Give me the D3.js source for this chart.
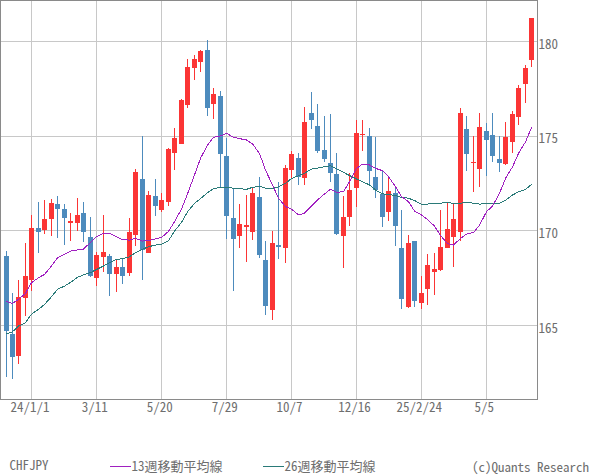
<!DOCTYPE html>
<html><head><meta charset="utf-8">
<script src="https://cdn.jsdelivr.net/npm/d3@7"></script>
<style>
html,body{margin:0;padding:0;background:#fff;}
svg{display:block;}
text{font-family:"Noto Sans CJK JP",monospace;font-feature-settings:"hwid";fill:#6e6e6e;font-size:13px;}
</style></head><body><svg id="c" width="600" height="475"></svg>
<script>
const symbol="CHFJPY";
const copyright="(c)Quants Research";
const ma13Label="13週移動平均線";
const ma26Label="26週移動平均線";
const yTicks=[165,170,175,180];
const tickIndex=[4,14,24,34,44,54,64,74];
const tickLabels=["24/1/1","3/11","5/20","7/29","10/7","12/16","25/2/24","5/5"];
const open=[168.67,164.55,163.40,166.47,167.42,170.15,170.04,170.64,171.42,171.15,
170.41,170.43,170.94,169.67,167.52,168.62,168.67,167.74,168.09,167.79,
169.80,172.74,168.85,171.84,171.10,171.54,174.13,174.60,176.66,178.62,
178.94,179.55,176.72,177.12,173.95,170.68,169.74,170.22,169.96,171.79,
168.46,165.83,169.25,169.11,173.23,173.85,172.81,176.22,175.54,174.27,
173.58,173.00,169.75,170.75,172.28,175.06,175.01,172.85,171.95,171.01,
171.98,169.09,165.98,169.46,166.21,166.95,167.84,167.93,169.10,169.69,
169.95,175.37,173.59,173.28,175.27,175.06,173.79,173.53,174.71,176.03,
177.77,179.04];
const close=[164.71,163.35,166.50,167.61,170.15,169.95,170.62,171.47,171.17,170.69,
170.52,170.83,169.95,167.63,168.72,168.88,167.74,168.09,167.63,169.95,
173.11,168.97,171.89,171.33,171.63,174.32,174.90,176.91,178.65,179.08,
179.50,176.51,177.23,174.08,170.80,169.59,170.36,170.29,172.00,168.74,
166.05,169.36,169.16,173.32,174.06,172.86,175.75,175.87,174.24,173.81,
173.07,169.83,170.73,172.16,175.17,175.12,173.18,172.18,170.75,172.11,
170.27,166.42,169.36,166.31,166.72,168.20,167.98,169.14,170.09,170.62,
176.22,174.07,173.63,175.48,174.81,173.97,173.59,174.95,176.17,177.54,
178.60,181.24];
const high=[168.93,166.71,167.40,169.36,170.83,171.52,171.63,171.68,171.84,171.42,
170.94,171.73,171.52,170.73,168.88,170.83,168.77,168.51,168.51,170.68,
173.26,175.01,172.10,172.74,172.00,174.37,175.43,176.96,179.08,179.29,
179.55,180.08,177.55,177.39,174.90,172.23,171.42,171.89,172.26,172.84,
169.46,169.99,172.58,173.48,174.22,174.11,176.54,177.33,176.70,176.07,
176.17,174.11,171.84,173.06,175.86,175.86,175.43,174.96,173.21,172.90,
172.37,171.10,169.78,169.46,167.62,168.78,168.83,171.10,171.47,171.41,
176.48,176.06,175.00,176.22,175.69,176.22,175.00,175.74,176.33,177.68,
178.75,181.24];
const low=[162.29,162.19,162.98,165.50,166.82,168.84,169.85,169.74,169.64,169.27,
169.48,170.01,169.43,167.54,167.10,167.84,166.57,166.78,167.21,167.63,
169.22,167.42,168.85,170.80,170.99,171.33,173.23,174.60,176.51,177.99,
178.41,176.08,175.93,172.30,169.55,166.84,169.11,168.37,169.53,168.58,
165.57,165.31,168.53,168.32,172.81,172.44,172.44,175.40,174.13,173.66,
172.60,169.78,168.06,170.27,171.28,174.24,172.44,171.75,170.22,170.54,
169.22,165.89,165.94,165.99,165.89,166.10,166.63,167.89,169.07,168.10,
169.47,173.17,172.06,172.33,172.91,173.65,173.12,173.49,174.12,175.60,
176.77,178.67];
const ma13=[166.27,166.17,166.38,166.70,167.26,167.52,167.70,168.14,168.58,168.77,
168.93,168.99,169.04,169.39,169.69,169.87,169.87,169.69,169.53,169.51,
169.60,169.46,169.48,169.57,169.65,169.97,170.48,171.15,171.95,172.95,
173.83,174.53,174.94,175.01,175.15,174.94,174.87,174.80,174.59,174.09,
173.21,172.42,171.72,171.28,171.15,170.84,170.93,171.31,171.63,171.95,
172.19,172.03,172.07,172.60,173.30,173.52,173.48,173.30,173.18,172.86,
172.33,171.81,171.54,171.05,170.84,170.60,170.25,169.75,169.33,169.25,
169.60,169.83,169.91,170.30,171.01,171.31,171.98,172.77,173.38,174.09,
174.70,175.46];
const ma26=[164.55,164.67,164.97,165.15,165.60,165.85,166.11,166.52,166.91,167.08,
167.28,167.54,167.68,167.79,167.96,168.14,168.32,168.49,168.53,168.63,
168.85,169.02,169.16,169.25,169.30,169.48,169.98,170.45,171.00,171.45,
171.70,172.02,172.23,172.30,172.30,172.25,172.23,172.19,172.30,172.35,
172.25,172.23,172.33,172.51,172.76,172.91,173.04,173.26,173.31,173.39,
173.44,173.27,173.09,172.92,172.74,172.60,172.42,172.16,171.95,171.93,
171.86,171.77,171.72,171.60,171.41,171.41,171.46,171.46,171.50,171.45,
171.46,171.50,171.46,171.41,171.45,171.45,171.46,171.62,171.89,172.06,
172.19,172.45];

const UP="#fb3535",DOWN="#4d8bbd",GRID="#c8c8c8",AXIS="#8a8a8a",P="#a020c0",G="#2a7a78";
const L=0.5,R=537.5,B=399.5,T=0.5;
const idx=d3.range(open.length);
const x=d3.scaleLinear().domain([0,81]).range([6,531.69]);
const y=d3.scaleLinear().domain([165,180]).range([325.5,41.5]);
const px=i=>Math.floor(x(i))+0.5;
const py=v=>Math.floor(y(v))+0.5;
const svg=d3.select("#c");

// grid
svg.append("g").selectAll("line").data(yTicks).join("line")
 .attr("x1",L).attr("x2",R).attr("y1",py).attr("y2",py).attr("stroke",GRID).attr("stroke-width",1).attr("shape-rendering","crispEdges");
svg.append("g").selectAll("line").data(tickIndex).join("line")
 .attr("x1",px).attr("x2",px).attr("y1",T).attr("y2",B).attr("stroke",GRID).attr("stroke-width",1).attr("shape-rendering","crispEdges");

// candles
const candles=svg.append("g").attr("shape-rendering","crispEdges");
candles.selectAll("line").data(idx).join("line")
 .attr("x1",px).attr("x2",px).attr("y1",i=>y(high[i])).attr("y2",i=>y(low[i]))
 .attr("stroke",i=>close[i]>=open[i]?UP:DOWN).attr("stroke-width",1);
candles.selectAll("rect").data(idx).join("rect")
 .attr("x",i=>px(i)-2.5).attr("width",5)
 .attr("y",i=>y(Math.max(open[i],close[i])))
 .attr("height",i=>Math.max(1,Math.abs(y(open[i])-y(close[i]))))
 .attr("fill",i=>close[i]>=open[i]?UP:DOWN);

// MA lines
const line=d3.line().x((d,i)=>px(i)).y(d=>y(d));
svg.append("path").attr("d",line(ma26)).attr("fill","none").attr("stroke",G).attr("stroke-width",1).attr("shape-rendering","crispEdges");
svg.append("path").attr("d",line(ma13)).attr("fill","none").attr("stroke",P).attr("stroke-width",1).attr("shape-rendering","crispEdges");

// frame
svg.append("rect").attr("x",L).attr("y",T).attr("width",R-L).attr("height",B-T)
 .attr("fill","none").attr("stroke",AXIS).attr("stroke-width",1).attr("shape-rendering","crispEdges");

// axes
const yAxis=d3.axisRight(y).tickValues(yTicks).tickSize(0).tickPadding(0).tickFormat(d3.format("d"));
svg.append("g").attr("transform","translate(538.5,6.5)").call(yAxis)
 .call(g=>g.select(".domain").remove())
 .selectAll("text").attr("dy",0).attr("font-family",null).attr("font-size",null);
const xAxis=d3.axisBottom(x).tickValues(tickIndex).tickSize(0).tickPadding(0).tickFormat((d,i)=>tickLabels[i]);
svg.append("g").attr("transform","translate(-2.5,412)").call(xAxis)
 .call(g=>g.select(".domain").remove())
 .selectAll("text").attr("dy",0).attr("y",0).attr("font-family",null).attr("font-size",null);
svg.selectAll("g").attr("font-family",null).attr("font-size",null);

// legend
const lg=svg.append("g");
lg.append("text").attr("x",9.5).attr("y",470).text(symbol);
lg.append("line").attr("x1",110).attr("x2",131).attr("y1",466.5).attr("y2",466.5).attr("stroke",P).attr("shape-rendering","crispEdges");
lg.append("text").attr("x",131.5).attr("y",470.5).text(ma13Label);
lg.append("line").attr("x1",263).attr("x2",284).attr("y1",466.5).attr("y2",466.5).attr("stroke",G).attr("shape-rendering","crispEdges");
lg.append("text").attr("x",284.5).attr("y",470.5).text(ma26Label);
lg.append("text").attr("x",472).attr("y",472).text(copyright);
</script></body></html>
